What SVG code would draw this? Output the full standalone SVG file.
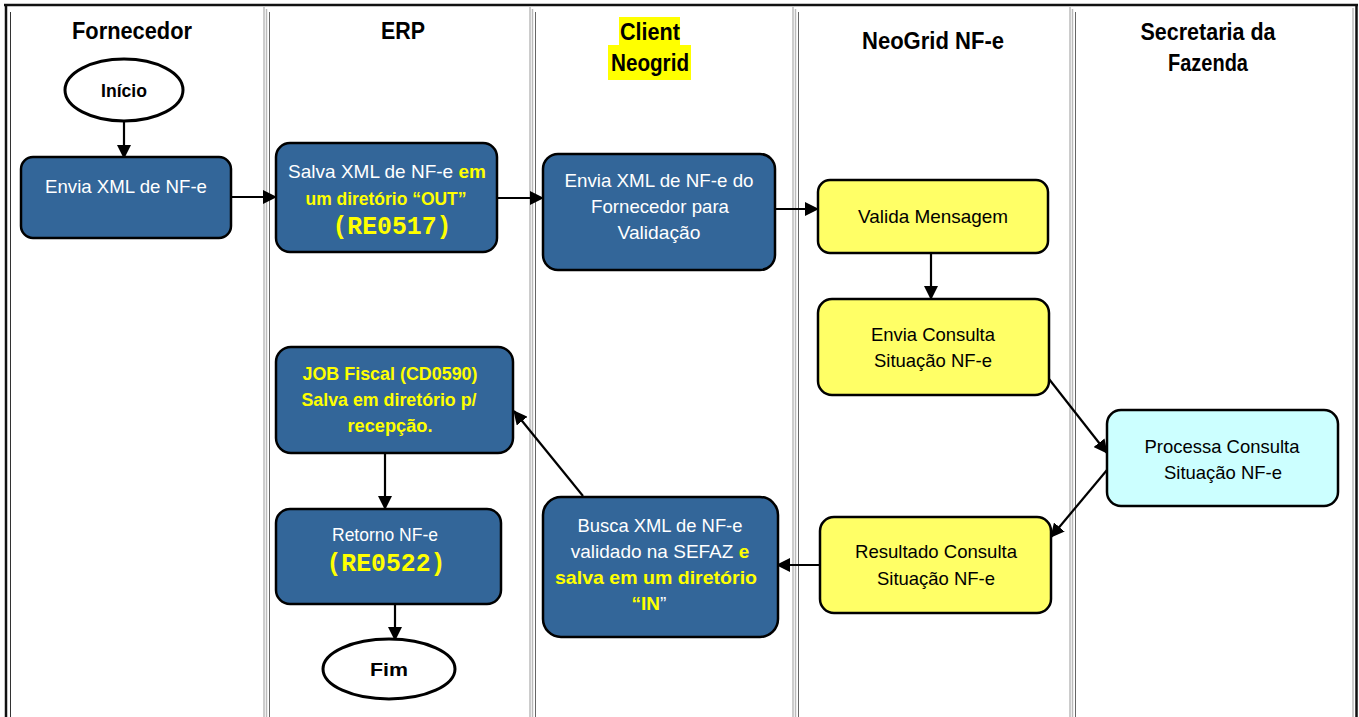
<svg xmlns="http://www.w3.org/2000/svg" width="1359" height="717" viewBox="0 0 1359 717">
<style>
.blue{fill:#336699;stroke:#000;stroke-width:2.5}
.yel{fill:#FFFF66;stroke:#000;stroke-width:2.5}
.cyan{fill:#CCFFFF;stroke:#000;stroke-width:2.5}
.ell{fill:#fff;stroke:#000;stroke-width:3}
.t{font-family:"Liberation Sans",Arial,sans-serif;font-size:19px;text-anchor:middle}
.s{text-anchor:start}
.w{fill:#fff}
.k{fill:#000}
.y{fill:#FFFF00;font-weight:bold}
.mono{font-family:"Liberation Mono","Courier New",monospace;font-weight:bold;font-size:25px;fill:#FFFF00;text-anchor:middle}
.h{font-family:"Liberation Sans",Arial,sans-serif;font-size:23px;font-weight:bold;text-anchor:middle;fill:#000}
.c{stroke:#000;stroke-width:2.2;fill:none;marker-end:url(#ah)}
.g1{stroke:#bbb;stroke-width:1.5}
.g2{stroke:#666;stroke-width:1}
</style>
<defs>
<marker id="ah" viewBox="0 0 14 14" refX="13" refY="7" markerWidth="14" markerHeight="14" markerUnits="userSpaceOnUse" orient="auto">
<path d="M0,0 L14,7 L0,14 z" fill="#000"/>
</marker>
</defs>
<rect x="0" y="0" width="1359" height="717" fill="#fff"/>
<g id="frame">
<line x1="4" y1="5" x2="1358" y2="5" stroke="#111" stroke-width="2.5"/>
<line x1="6" y1="4" x2="6" y2="717" stroke="#111" stroke-width="2.5"/>
<line x1="10.5" y1="12" x2="10.5" y2="717" stroke="#333" stroke-width="1"/>
<line x1="1356.5" y1="4" x2="1356.5" y2="717" stroke="#111" stroke-width="2.5"/>
<line x1="1353" y1="8" x2="1353" y2="717" class="g1"/>
<g>
<line x1="264" y1="7" x2="264" y2="717" class="g1"/><line x1="266.5" y1="9" x2="266.5" y2="717" class="g1"/><line x1="269.5" y1="12" x2="269.5" y2="717" class="g2"/>
<line x1="530" y1="7" x2="530" y2="717" class="g1"/><line x1="532.5" y1="9" x2="532.5" y2="717" class="g1"/><line x1="535.5" y1="12" x2="535.5" y2="717" class="g2"/>
<line x1="793" y1="7" x2="793" y2="717" class="g1"/><line x1="795.5" y1="9" x2="795.5" y2="717" class="g1"/><line x1="798.5" y1="12" x2="798.5" y2="717" class="g2"/>
<line x1="1070" y1="7" x2="1070" y2="717" class="g1"/><line x1="1072.5" y1="9" x2="1072.5" y2="717" class="g1"/><line x1="1075.5" y1="12" x2="1075.5" y2="717" class="g2"/>
</g>
</g>
<g id="headers">
<text class="h" x="132" y="39" textLength="120" lengthAdjust="spacingAndGlyphs">Fornecedor</text>
<text class="h" x="403" y="39" textLength="44" lengthAdjust="spacingAndGlyphs">ERP</text>
<rect x="619" y="17" width="61" height="28" fill="#FFFF00"/>
<rect x="608" y="45" width="83" height="35" fill="#FFFF00"/>
<text class="h" x="650" y="40" textLength="60" lengthAdjust="spacingAndGlyphs">Client</text>
<text class="h" x="650" y="71" textLength="78" lengthAdjust="spacingAndGlyphs">Neogrid</text>
<text class="h" x="933" y="49" textLength="142" lengthAdjust="spacingAndGlyphs">NeoGrid NF-e</text>
<text class="h" x="1208" y="40" textLength="135" lengthAdjust="spacingAndGlyphs">Secretaria da</text>
<text class="h" x="1208" y="71" textLength="80" lengthAdjust="spacingAndGlyphs">Fazenda</text>
</g>
<g id="connectors">
<line class="c" x1="124" y1="122" x2="124" y2="158"/>
<line class="c" x1="231" y1="197" x2="276" y2="197"/>
<line class="c" x1="497" y1="198" x2="543" y2="198"/>
<line class="c" x1="775" y1="209" x2="818" y2="209"/>
<line class="c" x1="931" y1="253" x2="931" y2="299"/>
<line class="c" x1="1049" y1="379" x2="1107" y2="453"/>
<line class="c" x1="1107" y1="470" x2="1051" y2="537"/>
<line class="c" x1="820" y1="565" x2="777" y2="565"/>
<line class="c" x1="583" y1="496" x2="514" y2="411"/>
<line class="c" x1="385" y1="453" x2="385" y2="509"/>
<line class="c" x1="395" y1="604" x2="395" y2="640"/>
</g>
<g id="inicio">
<ellipse class="ell" cx="124" cy="90" rx="59" ry="31"/>
<text class="t k" x="124" y="97" font-weight="bold" textLength="46" lengthAdjust="spacingAndGlyphs">Início</text>
</g>
<g id="envia-xml">
<rect class="blue" x="21" y="157" width="210" height="81" rx="12"/>
<text class="t w" x="126" y="193" textLength="162" lengthAdjust="spacingAndGlyphs">Envia XML de NF-e</text>
</g>
<g id="salva-xml">
<rect class="blue" x="276" y="143" width="221" height="109" rx="14"/>
<text class="t w" x="387" y="178" font-size="17.5">Salva XML de NF-e <tspan class="y">em</tspan></text>
<text class="t y" x="386" y="205" textLength="161" lengthAdjust="spacingAndGlyphs">um diretório “OUT”</text>
<text class="mono" x="392" y="234" textLength="119" lengthAdjust="spacingAndGlyphs">(RE0517)</text>
</g>
<g id="envia-fornecedor">
<rect class="blue" x="543" y="154" width="232" height="116" rx="15"/>
<text class="t w" x="659" y="187" textLength="189" lengthAdjust="spacingAndGlyphs">Envia XML de NF-e do</text>
<text class="t w" x="660" y="213" textLength="138" lengthAdjust="spacingAndGlyphs">Fornecedor para</text>
<text class="t w" x="659" y="239" textLength="83" lengthAdjust="spacingAndGlyphs">Validação</text>
</g>
<g id="valida">
<rect class="yel" x="818" y="180" width="230" height="73" rx="12"/>
<text class="t k" x="933" y="223" textLength="150" lengthAdjust="spacingAndGlyphs">Valida Mensagem</text>
</g>
<g id="envia-consulta">
<rect class="yel" x="818" y="299" width="231" height="96" rx="14"/>
<text class="t k" x="933" y="341" textLength="124" lengthAdjust="spacingAndGlyphs">Envia Consulta</text>
<text class="t k" x="933" y="367" textLength="118" lengthAdjust="spacingAndGlyphs">Situação NF-e</text>
</g>
<g id="processa">
<rect class="cyan" x="1107" y="410" width="231" height="96" rx="14"/>
<text class="t k" x="1222" y="453" textLength="155" lengthAdjust="spacingAndGlyphs">Processa Consulta</text>
<text class="t k" x="1223" y="479" textLength="118" lengthAdjust="spacingAndGlyphs">Situação NF-e</text>
</g>
<g id="resultado">
<rect class="yel" x="820" y="517" width="231" height="96" rx="14"/>
<text class="t k" x="936" y="558" textLength="162" lengthAdjust="spacingAndGlyphs">Resultado Consulta</text>
<text class="t k" x="936" y="585" textLength="118" lengthAdjust="spacingAndGlyphs">Situação NF-e</text>
</g>
<g id="busca">
<rect class="blue" x="543" y="497" width="235" height="140" rx="18"/>
<text class="t w" x="660" y="532" textLength="165" lengthAdjust="spacingAndGlyphs">Busca XML de NF-e</text>
<text class="t w" x="660" y="558" font-size="17.5">validado na SEFAZ <tspan class="y">e</tspan></text>
<text class="t y" x="656" y="584" textLength="202" lengthAdjust="spacingAndGlyphs">salva em um diretório</text>
<text class="t y" x="649" y="610">“IN<tspan class="w" font-weight="normal">”</tspan></text>
</g>
<g id="job-fiscal">
<rect class="blue" x="276" y="347" width="237" height="106" rx="15"/>
<text class="t y" x="390" y="380" textLength="175" lengthAdjust="spacingAndGlyphs">JOB Fiscal (CD0590)</text>
<text class="t y" x="389" y="406" textLength="175" lengthAdjust="spacingAndGlyphs">Salva em diretório p/</text>
<text class="t y" x="390" y="432" textLength="85" lengthAdjust="spacingAndGlyphs">recepção.</text>
</g>
<g id="retorno">
<rect class="blue" x="276" y="509" width="225" height="95" rx="14"/>
<text class="t w" x="385" y="541" textLength="106" lengthAdjust="spacingAndGlyphs">Retorno NF-e</text>
<text class="mono" x="386" y="571" textLength="119" lengthAdjust="spacingAndGlyphs">(RE0522)</text>
</g>
<g id="fim">
<ellipse class="ell" cx="389" cy="669" rx="66" ry="30"/>
<text class="t k" x="389" y="676" font-weight="bold" textLength="38" lengthAdjust="spacingAndGlyphs">Fim</text>
</g>
</svg>
